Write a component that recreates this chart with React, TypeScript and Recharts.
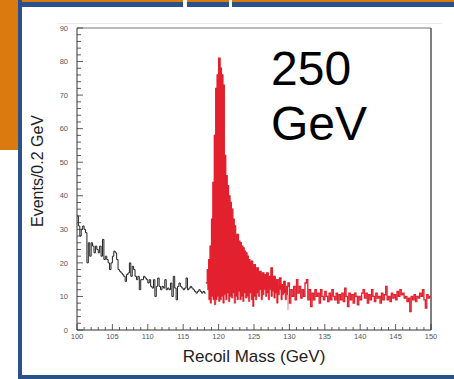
import { ComposedChart, Line, Area, XAxis, YAxis, ReferenceLine } from 'recharts';

// histogram bins are 0.2 GeV wide, left edges from 100.0 GeV
const BIN = 0.2;

// black (background only) part, 100.0 .. 118.2 GeV
const blackCounts = [
  34, 31, 28, 30, 31, 30, 29, 20, 26, 22,
  26, 25, 23, 25, 24, 23, 25, 22, 27, 21,
  22, 21, 20, 18, 20, 22, 23.5, 23, 21, 18,
  17.5, 17, 16.5, 16, 14.5, 16.5, 17, 20, 16, 19,
  18, 16, 15, 16, 12, 15, 15, 16, 15.5, 15,
  14, 15, 13, 12.5, 15, 10, 13, 15.5, 13, 12,
  13, 12.5, 15, 12, 12.5, 12, 14, 10, 16, 12.5,
  9, 13, 14, 13, 12.5, 12, 12.5, 15.5, 12, 12.5,
  13, 12.5, 12, 11.5, 11, 11.5, 12, 11.5, 11, 11.5,
  11, 11,
];

// red histogram, upper edge, 118.2 .. 149.8 GeV
const redCounts = [
  14, 18, 21, 25, 33, 44, 58, 72, 76,
  81, 78, 76, 73, 52, 46, 43, 40, 38, 36,
  33, 31, 28, 28.5, 26.5, 26, 25, 24.5, 23.5, 23,
  22, 21, 20, 20.5, 19, 19.5, 18, 18.5, 17, 17.5,
  16, 17, 16, 16.5, 17, 15.5, 16, 18.5, 15, 16,
  14, 15, 13, 15.5, 13.5, 12.5, 14.5, 12, 13, 14,
  8, 12, 10, 13, 9, 15, 11, 13, 9.5, 12,
  10, 14, 15, 9, 12, 7, 11, 9, 12, 10,
  11, 8, 12, 10, 9, 11.5, 10, 8.5, 11, 9,
  12, 10, 9, 11, 8, 10.5, 9, 11, 8.5, 12.5,
  10, 7, 11, 9, 10.5, 8, 11, 10, 7.5, 10,
  9, 11, 12, 9.5, 11, 8, 10.5, 9, 12, 10,
  8.5, 11, 9.5, 10, 8, 11, 9, 10.5, 13, 9,
  10, 8.5, 11, 9.5, 10.5, 9, 11.5, 10, 12, 10.5,
  11, 9.5, 10, 8.5, 9.5, 5.5, 10, 9, 10.5, 8.5,
  10, 9.5, 11, 10, 12, 9, 6.5, 10.5, 9.5, 10,
];

// lower edge of the dense red peak region, 118.4 .. 129.8 GeV
const redLow = [
  12, 9, 8,
  10, 9, 7.5, 9, 10,
  8.5, 9, 10, 8, 10.5,
  9, 11, 8.5, 10, 9.5,
  11, 8, 10, 9, 11.5,
  9, 10, 8.5, 11, 9.5,
  10, 8.5, 11, 9, 7,
  10, 9, 11, 10, 12,
  9, 10.5, 12, 10, 11,
  9, 12, 10, 11.5, 9.5,
  11, 8, 10.5, 12, 9,
  10.5, 11, 9, 10.5, 6,
];

const xTicks = Array.from({ length: 51 }, (_, i) => 100 + i);
const yTicks = Array.from({ length: 46 }, (_, i) => i * 2);

const RED = '#E2202E';
const redStart = blackCounts.length - 1; // red begins at 118.2
const lowStart = redStart + 1;

const data = Array.from({ length: 251 }, (_, i) => {
  const r = i - redStart;
  const l = i - lowStart;
  const hi = r >= 0 ? redCounts[Math.min(r, redCounts.length - 1)] : null;
  return {
    mass: +(100 + i * BIN).toFixed(1),
    black: i < blackCounts.length ? blackCounts[i] : null,
    red: hi,
    band: l >= 0 && l < redLow.length ? [redLow[l], hi] : null,
  };
});

const XTick = (props: any) => {
  const { x, y, payload } = props;
  const v = Math.round(payload.value);
  const major = v % 5 === 0;
  return (
    <g>
      <line x1={x} x2={x} y1={y} y2={y - (major ? 6 : 3)} stroke="#333" strokeWidth={0.8} />
      {major && (
        <text x={x} y={y + 9} textAnchor="middle" fontSize={7.5} fill="#555" fontFamily="Liberation Sans, Arial, sans-serif">
          {v}
        </text>
      )}
    </g>
  );
};

const YTick = (props: any) => {
  const { x, y, payload } = props;
  const v = Math.round(payload.value);
  const major = v % 10 === 0;
  return (
    <g>
      <line x1={x} x2={x + (major ? 6 : 4)} y1={y} y2={y} stroke="#333" strokeWidth={0.8} />
      {major && (
        <text x={x - 9} y={y} dy="0.35em" textAnchor="end" fontSize={7.5} fill="#555" fontFamily="Liberation Sans, Arial, sans-serif">
          {v}
        </text>
      )}
    </g>
  );
};

const ORANGE = '#DA7A0F';
const BLUE = '#2A5189';
const font = 'Liberation Sans, Arial, sans-serif';

export default function App() {
  return (
    <div style={{ position: 'absolute', left: 0, top: 0, width: 454, height: 379, background: '#fff', overflow: 'hidden', fontFamily: font }}>
      {/* slide frame */}
      <div style={{ position: 'absolute', left: 0, top: 0, width: 454, height: 2, background: ORANGE }} />
      <div style={{ position: 'absolute', left: 0, top: 0, width: 18, height: 150, background: ORANGE }} />
      <div style={{ position: 'absolute', left: 18, top: 0, width: 4, height: 379, background: BLUE }} />
      <div style={{ position: 'absolute', left: 18, top: 2, width: 436, height: 5, background: BLUE }} />
      <div style={{ position: 'absolute', left: 183, top: 0, width: 4, height: 7, background: '#fff' }} />
      <div style={{ position: 'absolute', left: 229, top: 0, width: 3, height: 7, background: '#fff' }} />
      <div style={{ position: 'absolute', left: 18, top: 375, width: 436, height: 4, background: BLUE }} />
      <div style={{ position: 'absolute', left: 57, top: 23, width: 385, height: 1, background: '#ececec' }} />

      <div style={{ position: 'absolute', left: 0, top: 0 }}>
        <ComposedChart width={454} height={379} data={data} margin={{ top: 28, right: 23, bottom: 29, left: 47 }}>
          <XAxis
            dataKey="mass"
            type="number"
            domain={[100, 150]}
            ticks={xTicks}
            interval={0}
            tick={<XTick />}
            tickLine={false}
            tickSize={0}
            tickMargin={0}
            height={20}
            axisLine={{ stroke: '#333', strokeWidth: 1 }}
            allowDataOverflow
          />
          <YAxis
            type="number"
            domain={[0, 90]}
            ticks={yTicks}
            interval={0}
            tick={<YTick />}
            tickLine={false}
            tickSize={0}
            tickMargin={0}
            width={30}
            axisLine={{ stroke: '#333', strokeWidth: 1 }}
            allowDataOverflow
          />
          <ReferenceLine y={90} stroke="#777" strokeWidth={1} />
          <ReferenceLine x={150} stroke="#555" strokeWidth={1.5} />
          <Area
            dataKey="band"
            type="stepAfter"
            fill={RED}
            fillOpacity={1}
            stroke={RED}
            strokeWidth={0.6}
            isAnimationActive={false}
            activeDot={false}
          />
          <Line
            dataKey="black"
            type="stepAfter"
            stroke="#222"
            strokeWidth={1}
            dot={false}
            isAnimationActive={false}
          />
          <Line
            dataKey="red"
            type="stepAfter"
            stroke={RED}
            strokeWidth={1.3}
            dot={false}
            isAnimationActive={false}
          />
        </ComposedChart>
      </div>

      <div style={{ position: 'absolute', left: -62, top: 163, width: 200, height: 16, lineHeight: '16px', fontSize: 16, textAlign: 'center', color: '#222', transform: 'rotate(-90deg)' }}>
        Events/0.2 GeV
      </div>
      <div style={{ position: 'absolute', left: 77, top: 348, width: 354, lineHeight: '17px', fontSize: 17, textAlign: 'center', color: '#222' }}>
        Recoil Mass (GeV)
      </div>
      <div style={{ position: 'absolute', left: 271, top: 41, lineHeight: '55px', fontSize: 48, color: '#000' }}>
        250
        <br />
        GeV
      </div>
    </div>
  );
}
